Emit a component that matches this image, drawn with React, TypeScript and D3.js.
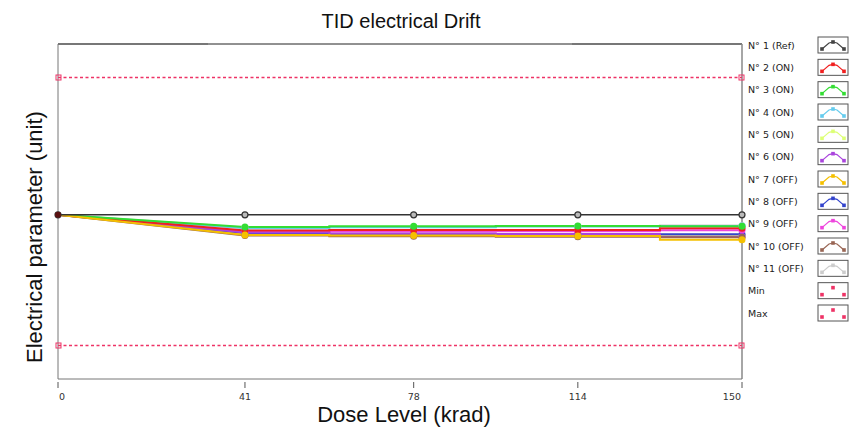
import React from "react";
import * as d3 from "d3";

const doses = [0, 41, 78, 114, 150];
const tickLabels = ["0", "41", "78", "114", "150"];
const seriesNames = ["N° 1 (Ref)", "N° 2 (ON)", "N° 3 (ON)", "N° 4 (ON)", "N° 5 (ON)", "N° 6 (ON)", "N° 7 (OFF)", "N° 8 (OFF)", "N° 9 (OFF)", "N° 10 (OFF)", "N° 11 (OFF)"];
const seriesColors = ["#444444", "#f02020", "#33dd33", "#66ccee", "#ddff77", "#aa44dd", "#f5c000", "#3344cc", "#ee44dd", "#996655", "#cccccc"];
const s1 = [49, 49, 49, 49, 49];
const s2 = [49, 44.3, 44.5, 44.5, 45.0];
const s3 = [49, 45.4, 45.6, 45.7, 45.6];
const s4 = [49, 45.0, 45.3, 45.5, 45.7];
const s5 = [49, 43.4, 43.3, 43.1, 42.9];
const s6 = [49, 43.7, 43.4, 43.3, 42.5];
const s7 = [49, 43.0, 42.8, 42.7, 41.6];
const s8 = [49, 43.6, 43.3, 43.2, 43.2];
const s9 = [49, 44.0, 44.0, 44.1, 44.4];
const s10 = [49, 42.8, 42.6, 42.5, 42.3];
const s11 = [49, 45.2, 45.4, 45.6, 45.8];
const minLimit = 10;
const maxLimit = 90;
const limitColor = "#ee3366";

const allSeries = [s1, s2, s3, s4, s5, s6, s7, s8, s9, s10, s11];
// drawing order so that green, red and gold markers stay visible on top
const drawOrder = [10, 3, 4, 7, 8, 5, 9, 1, 2, 6, 0];

const W = 850, H = 435;
const left = 58, right = 742, top = 44, bottom = 379;

export default function App() {
  const x = d3.scaleLinear().domain([0, 150]).range([left, right]);
  const y = d3.scaleLinear().domain([0, 100]).range([bottom, top]);

  const linePart = d3.line<number>().x((_, i) => x(doses[i])).y((v) => y(v));
  const stepLine = d3
    .line<[number, number]>()
    .x((d) => x(d[0]))
    .y((d) => y(d[1]))
    .curve(d3.curveStep);

  const font = "'Liberation Sans', Arial, sans-serif";
  const smallFont = "'DejaVu Sans', Verdana, sans-serif";

  const legendRows = [...seriesNames, "Min", "Max"];
  const legendColors = [...seriesColors, limitColor, limitColor];
  const legendY = d3.scaleLinear().domain([0, legendRows.length - 1]).range([45, 313]);

  return (
    <svg width={W} height={H} style={{ position: "absolute", left: 0, top: 0, background: "#fff" }}>
      <text x={401} y={28} textAnchor="middle" fontFamily={font} fontSize={20} fill="#111">
        TID electrical Drift
      </text>

      {/* frame */}
      <line x1={left} x2={208} y1={top} y2={top} stroke="#777" strokeWidth={2} />
      <line x1={208} x2={572} y1={top} y2={top} stroke="#222" strokeWidth={1} />
      <line x1={572} x2={right} y1={top} y2={top} stroke="#777" strokeWidth={2} />
      <line x1={left} x2={left} y1={top} y2={bottom} stroke="#777" strokeWidth={1} />
      <line x1={right} x2={right} y1={top} y2={bottom} stroke="#888" strokeWidth={1.5} />
      <line x1={left} x2={right} y1={bottom} y2={bottom} stroke="#777" strokeWidth={1} />

      {/* x ticks */}
      {doses.map((d, i) => (
        <g key={"t" + i}>
          <line x1={x(d)} x2={x(d)} y1={bottom + 3} y2={bottom + 9} stroke="#555" strokeWidth={1} />
          <text
            x={x(d) + (i === 0 ? 1 : i === doses.length - 1 ? -1 : 0)}
            y={bottom + 21}
            textAnchor={i === 0 ? "start" : i === doses.length - 1 ? "end" : "middle"}
            fontFamily={smallFont}
            fontSize={9.5}
            fill="#333"
          >
            {tickLabels[i]}
          </text>
        </g>
      ))}

      {/* limits */}
      {[maxLimit, minLimit].map((v, i) => (
        <g key={"lim" + i}>
          <line x1={left} x2={right} y1={y(v)} y2={y(v)} stroke={limitColor} strokeWidth={1.3} strokeDasharray="3,2.5" />
          <rect x={left - 2} y={y(v) - 2.5} width={5} height={5} fill="none" stroke={limitColor} strokeWidth={1} />
          <rect x={right - 3} y={y(v) - 2.5} width={5} height={5} fill="none" stroke={limitColor} strokeWidth={1} />
        </g>
      ))}

      {/* series */}
      {drawOrder.map((si) => {
        const vals = allSeries[si];
        const c = seriesColors[si];
        const stepPts: [number, number][] = doses.slice(1).map((d, i) => [d, vals[i + 1]]);
        return (
          <g key={"s" + si}>
            <path d={linePart(vals.slice(0, 2)) || ""} fill="none" stroke={si === 0 ? "#333" : c} strokeWidth={si === 0 ? 1.5 : 2} />
            <path d={stepLine(stepPts) || ""} fill="none" stroke={si === 0 ? "#333" : c} strokeWidth={si === 0 ? 1.5 : 2} />
          </g>
        );
      })}
      {drawOrder.map((si) => {
        const vals = allSeries[si];
        const c = seriesColors[si];
        return (
          <g key={"m" + si}>
            {vals.map((v, i) =>
              si === 0 ? (
                <circle key={i} cx={x(doses[i])} cy={y(v)} r={3} fill="#bbb" stroke="#333" strokeWidth={1.2} />
              ) : i === 0 ? null : (
                <circle key={i} cx={x(doses[i])} cy={y(v)} r={3.5} fill={c} />
              )
            )}
          </g>
        );
      })}
      <circle cx={x(0)} cy={y(s1[0])} r={3} fill="#5a1010" />

      {/* axis titles */}
      <text x={404} y={422} textAnchor="middle" fontFamily={font} fontSize={22} fill="#111">
        Dose Level (krad)
      </text>
      <text
        transform={`translate(42, 237) rotate(-90)`}
        textAnchor="middle"
        fontFamily={font}
        fontSize={22}
        fill="#111"
      >
        Electrical parameter (unit)
      </text>

      {/* legend */}
      {legendRows.map((name, i) => {
        const cy = legendY(i);
        const c = legendColors[i];
        const bx = 818, bw = 30, bh = 16;
        const pts: [number, number][] = [
          [bx + 4, cy + 4],
          [bx + 11, cy - 2],
          [bx + 15, cy - 3],
          [bx + 19, cy - 2],
          [bx + 26, cy + 4],
        ];
        const isLimit = i >= seriesNames.length;
        return (
          <g key={"lg" + i}>
            <text x={748} y={cy + 3.5} fontFamily={smallFont} fontSize={9.5} fill="#222">
              {name}
            </text>
            <rect x={bx} y={cy - bh / 2} width={bw} height={bh} fill="#fff" stroke="#555" strokeWidth={1} />
            {!isLimit && (
              <path d={d3.line()(pts) || ""} fill="none" stroke={c} strokeWidth={1.2} />
            )}
            {(isLimit ? [pts[0], pts[2], pts[4]] : pts.filter((_, k) => k !== 1 && k !== 3)).map((p, k) => (
              <rect key={k} x={p[0] - 1.8} y={p[1] - 1.8} width={3.6} height={3.6} fill={c} />
            ))}
          </g>
        );
      })}
    </svg>
  );
}
